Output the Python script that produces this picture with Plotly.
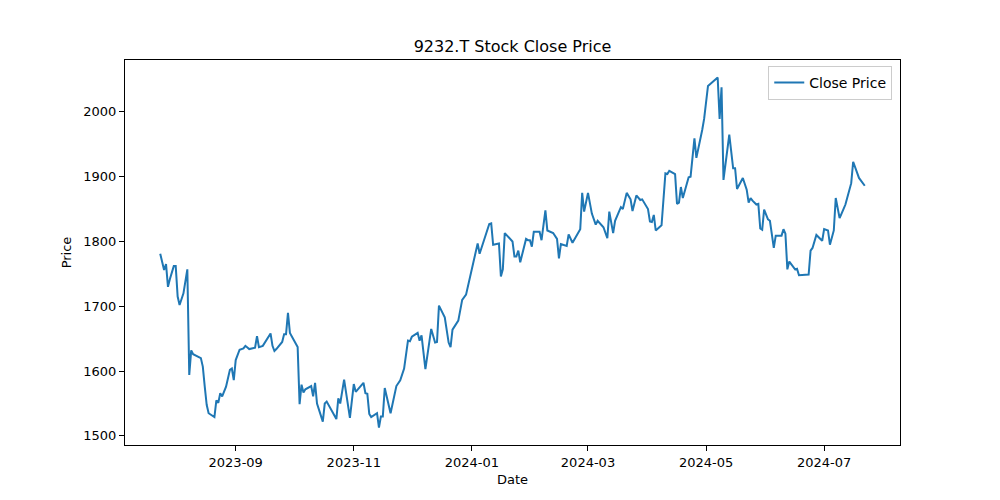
import plotly.graph_objects as go
import pandas as pd

dates = [
    "2023-07-24", "2023-07-25", "2023-07-26", "2023-07-27", "2023-07-28", "2023-07-29", "2023-07-31",
    "2023-08-01", "2023-08-02", "2023-08-03", "2023-08-05", "2023-08-07", "2023-08-08", "2023-08-09",
    "2023-08-10", "2023-08-14", "2023-08-15", "2023-08-16", "2023-08-17", "2023-08-18", "2023-08-21",
    "2023-08-22", "2023-08-23", "2023-08-24", "2023-08-25", "2023-08-27", "2023-08-29", "2023-08-30",
    "2023-08-31", "2023-09-01", "2023-09-03", "2023-09-05", "2023-09-06", "2023-09-08", "2023-09-11",
    "2023-09-12", "2023-09-13", "2023-09-15", "2023-09-19", "2023-09-20", "2023-09-21", "2023-09-22",
    "2023-09-25", "2023-09-26", "2023-09-27", "2023-09-28", "2023-09-29", "2023-10-01", "2023-10-03",
    "2023-10-04", "2023-10-05", "2023-10-06", "2023-10-07", "2023-10-10", "2023-10-11", "2023-10-12",
    "2023-10-13", "2023-10-16", "2023-10-17", "2023-10-18", "2023-10-23", "2023-10-24", "2023-10-25",
    "2023-10-27", "2023-10-30", "2023-11-01", "2023-11-02", "2023-11-06", "2023-11-07", "2023-11-08",
    "2023-11-09", "2023-11-10", "2023-11-13", "2023-11-14", "2023-11-15", "2023-11-16", "2023-11-17",
    "2023-11-20", "2023-11-22", "2023-11-23", "2023-11-25", "2023-11-27", "2023-11-29", "2023-11-30",
    "2023-12-01", "2023-12-04", "2023-12-05", "2023-12-06", "2023-12-08", "2023-12-11", "2023-12-13",
    "2023-12-14", "2023-12-15", "2023-12-18", "2023-12-20", "2023-12-21", "2023-12-22", "2023-12-25",
    "2023-12-27", "2023-12-29", "2024-01-04", "2024-01-05", "2024-01-10", "2024-01-11", "2024-01-12",
    "2024-01-15", "2024-01-16", "2024-01-17", "2024-01-18", "2024-01-20", "2024-01-22", "2024-01-23",
    "2024-01-24", "2024-01-25", "2024-01-26", "2024-01-29", "2024-01-30", "2024-01-31", "2024-02-01",
    "2024-02-02", "2024-02-05", "2024-02-06", "2024-02-08", "2024-02-09", "2024-02-12", "2024-02-14",
    "2024-02-15", "2024-02-16", "2024-02-19", "2024-02-20", "2024-02-22", "2024-02-26", "2024-02-27",
    "2024-02-28", "2024-03-01", "2024-03-03", "2024-03-05", "2024-03-06", "2024-03-09", "2024-03-11",
    "2024-03-12", "2024-03-14", "2024-03-15", "2024-03-18", "2024-03-19", "2024-03-21", "2024-03-23",
    "2024-03-24", "2024-03-26", "2024-03-28", "2024-03-29", "2024-04-01", "2024-04-02", "2024-04-03",
    "2024-04-04", "2024-04-05", "2024-04-08", "2024-04-10", "2024-04-11", "2024-04-12", "2024-04-15",
    "2024-04-16", "2024-04-17", "2024-04-18", "2024-04-19", "2024-04-22", "2024-04-23", "2024-04-25",
    "2024-04-26", "2024-04-29", "2024-04-30", "2024-05-02", "2024-05-07", "2024-05-08", "2024-05-09",
    "2024-05-10", "2024-05-13", "2024-05-15", "2024-05-16", "2024-05-17", "2024-05-20", "2024-05-22",
    "2024-05-23", "2024-05-24", "2024-05-25", "2024-05-27", "2024-05-28", "2024-05-29", "2024-05-30",
    "2024-05-31", "2024-06-02", "2024-06-03", "2024-06-05", "2024-06-06", "2024-06-09", "2024-06-10",
    "2024-06-11", "2024-06-12", "2024-06-13", "2024-06-16", "2024-06-17", "2024-06-18", "2024-06-23",
    "2024-06-24", "2024-06-25", "2024-06-27", "2024-06-30", "2024-07-01", "2024-07-03", "2024-07-04",
    "2024-07-06", "2024-07-07", "2024-07-09", "2024-07-11", "2024-07-12", "2024-07-15", "2024-07-16",
    "2024-07-19", "2024-07-22",
]

close_price = [
    1781, 1767, 1756, 1765, 1730, 1742, 1762,
    1762, 1715, 1702, 1720, 1757, 1594, 1632,
    1626, 1620, 1607, 1576, 1548, 1535, 1529,
    1555, 1551, 1566, 1561, 1576, 1602, 1604,
    1586, 1617, 1633, 1635, 1639, 1634, 1636,
    1654, 1637, 1639, 1658, 1639, 1631, 1634,
    1645, 1657, 1657, 1690, 1659, 1648, 1637,
    1549, 1579, 1567, 1572, 1577, 1561, 1582,
    1550, 1522, 1550, 1553, 1526, 1558, 1550,
    1587, 1528, 1580, 1568, 1582, 1566, 1565,
    1534, 1529, 1535, 1513, 1530, 1530, 1574,
    1535, 1566, 1577, 1586, 1604, 1647, 1646,
    1653, 1659, 1647, 1655, 1603, 1665, 1644,
    1645, 1701, 1683, 1644, 1637, 1664, 1678,
    1710, 1718, 1797, 1781, 1827, 1828, 1795,
    1797, 1746, 1757, 1813, 1806, 1800, 1777,
    1777, 1786, 1768, 1804, 1802, 1802, 1792,
    1815, 1815, 1802, 1848, 1817, 1813, 1804,
    1774, 1796, 1793, 1811, 1798, 1819, 1875,
    1846, 1875, 1843, 1826, 1832, 1822, 1805,
    1846, 1813, 1832, 1853, 1850, 1875, 1865,
    1847, 1871, 1864, 1865, 1850, 1831, 1830,
    1841, 1817, 1825, 1905, 1904, 1909, 1904,
    1858, 1860, 1884, 1867, 1899, 1900, 1959,
    1929, 1972, 1989, 2040, 2053, 1989, 2038,
    1895, 1965, 1913, 1913, 1881, 1898, 1880,
    1860, 1867, 1863, 1857, 1858, 1820, 1818,
    1849, 1834, 1832, 1790, 1809, 1809, 1819,
    1812, 1757, 1769, 1757, 1758, 1748, 1749,
    1786, 1790, 1810, 1801, 1819, 1817, 1795,
    1817, 1867, 1836, 1850, 1857, 1890, 1923,
    1898, 1886,
]

y_ticks = [1500, 1600, 1700, 1800, 1900, 2000]

dts = pd.to_datetime(dates)
span = dts.max() - dts.min()
x_range = [dts.min() - 0.05 * span, dts.max() + 0.05 * span]
ymin, ymax = min(close_price), max(close_price)
yr = ymax - ymin
y_range = [ymin - 0.05 * yr, ymax + 0.05 * yr]

fig = go.Figure()
fig.add_trace(go.Scatter(
    x=dts, y=close_price, mode="lines", name="Close Price",
    line=dict(color="#1f77b4", width=2),
))

font_family = "DejaVu Sans"
axis_common = dict(
    showline=True, linecolor="black", linewidth=1, mirror=True,
    ticks="outside", ticklen=5, tickwidth=1, tickcolor="black",
    showgrid=False, zeroline=False,
    tickfont=dict(family=font_family, size=13, color="black"),
)

fig.update_layout(
    width=1000, height=500,
    margin=dict(l=125, r=100, t=60, b=55),
    paper_bgcolor="white", plot_bgcolor="white",
    title=dict(text="9232.T Stock Close Price", x=0.5125, xanchor="center",
               y=0.908, yanchor="middle",
               font=dict(family=font_family, size=16, color="black")),
    xaxis=dict(range=x_range, tickformat="%Y-%m", dtick="M2", tick0="2023-09-01",
               title=dict(text="Date", font=dict(family=font_family, size=13, color="black"), standoff=6),
               **axis_common),
    yaxis=dict(range=y_range, tickvals=y_ticks,
               title=dict(text="Price", font=dict(family=font_family, size=13, color="black"), standoff=8),
               **axis_common),
    showlegend=True,
    legend=dict(x=0.99, y=0.985, xanchor="right", yanchor="top", itemwidth=30,
                bgcolor="rgba(255,255,255,0.8)", bordercolor="#cccccc", borderwidth=1,
                font=dict(family=font_family, size=14, color="black")),
)

fig.write_html("out.html", config={"displayModeBar": False},
               post_script="document.body.style.margin='0';document.body.style.overflow='hidden';")
